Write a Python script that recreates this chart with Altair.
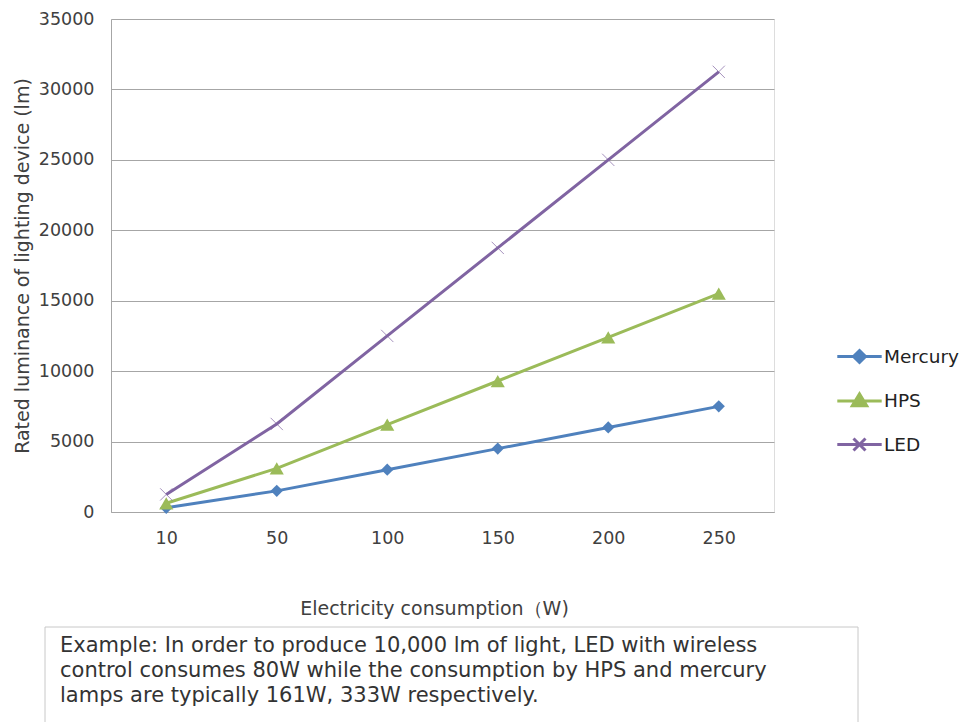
import altair as alt
import pandas as pd

watts = ["10", "50", "100", "150", "200", "250"]
mercury = [300, 1500, 3000, 4500, 6000, 7500]
hps = [620, 3100, 6200, 9300, 12400, 15500]
led = [1250, 6250, 12500, 18750, 25000, 31250]
series_names = ["Mercury", "HPS", "LED"]
series_colors = ["#4f81bd", "#9bbb59", "#8064a2"]
y_ticks = [0, 5000, 10000, 15000, 20000, 25000, 30000, 35000]
x_title = "Electricity consumption（W)"
y_title = "Rated luminance of lighting device (lm)"
note_lines = [
    "Example: In order to produce 10,000 lm of light, LED with wireless",
    "control consumes 80W while the consumption by HPS and mercury",
    "lamps are typically 161W, 333W respectively.",
]

rows = []
for name, vals in zip(series_names, [mercury, hps, led]):
    for w, v in zip(watts, vals):
        rows.append({"watt": w, "lm": v, "series": name})
df = pd.DataFrame(rows)
one = pd.DataFrame({"k": [0]})

FONT = "DejaVu Sans"
TXT = "#404040"

color_scale = alt.Scale(domain=series_names, range=series_colors)
x_enc = alt.X(
    "watt:O",
    sort=watts,
    scale=alt.Scale(type="point", padding=0.5),
    axis=alt.Axis(
        title=x_title, labelAngle=0, ticks=False, labelPadding=17,
        labelFontSize=17.5, labelFont=FONT, labelColor=TXT,
        titleFontSize=19, titleFont=FONT, titleColor=TXT, titleFontWeight="normal",
        titlePadding=53, titleX=323, domainColor="#a6a6a6", grid=False,
    ),
)
y_enc = alt.Y(
    "lm:Q",
    scale=alt.Scale(domain=[0, 35000], nice=False),
    axis=alt.Axis(
        title=y_title, values=y_ticks, format="d", ticks=False, labelPadding=17,
        labelFontSize=17.5, labelFont=FONT, labelColor=TXT,
        titleFontSize=19, titleFont=FONT, titleColor=TXT, titleFontWeight="normal",
        titlePadding=6, domainColor="#a6a6a6", gridColor="#a6a6a6", gridWidth=1,
    ),
)

diamond = "M-1.85,0H1.85M0,-0.5L0.5,0L0,0.5L-0.5,0Z"
tri = "M-1.85,0H1.85M-0.6,0.4L0,-0.6L0.6,0.4Z"
xs = "M-1.85,0H1.85M-0.5,-0.5L0.5,0.5M-0.5,0.5L0.5,-0.5"
shape_sig = (
    f"datum.value === 'Mercury' ? '{diamond}' : "
    f"(datum.value === 'HPS' ? '{tri}' : '{xs}')"
)

lines = alt.Chart(df).mark_line(strokeWidth=3).encode(
    x=x_enc,
    y=y_enc,
    color=alt.Color(
        "series:N", scale=color_scale, sort=series_names,
        legend=alt.Legend(
            title=None, orient="none", legendX=735, legendY=324,
            symbolSize=576, symbolStrokeWidth=3, rowPadding=18.5, padding=0,
            labelFontSize=18.5, labelFont=FONT, labelColor="#222222", labelOffset=11,
            symbolType={"expr": shape_sig},
            symbolFillColor={"expr": "scale('color', datum.value)"},
        ),
    ),
)

pts_merc = alt.Chart(df).transform_filter(
    "datum.series === 'Mercury'"
).mark_point(shape="diamond", filled=True, opacity=1, size=150).encode(
    x=x_enc, y=y_enc,
    color=alt.Color("series:N", scale=color_scale, legend=None),
)

pts_hps = alt.Chart(df).transform_filter(
    "datum.series === 'HPS'"
).mark_point(shape="triangle-up", filled=True, opacity=1, size=200).encode(
    x=x_enc, y=y_enc,
    color=alt.Color("series:N", scale=color_scale, legend=None),
)

pts_x = alt.Chart(df).transform_filter(
    "datum.series === 'LED'"
).mark_point(
    shape="M-1,-1L1,1M-1,1L1,-1", filled=False, size=150, strokeWidth=1, opacity=0.7
).encode(
    x=x_enc, y=y_enc,
    color=alt.Color("series:N", scale=color_scale, legend=None),
)

note_box = alt.Chart(one).mark_rect(
    fill="white", stroke="#c8c8c8", strokeWidth=1
).encode(
    x=alt.value(-66), x2=alt.value(747), y=alt.value(608), y2=alt.value(720)
)

note_text = alt.Chart(one).mark_text(
    align="left", baseline="alphabetic", font=FONT, fontSize=21, lineHeight=25,
    color="#333333"
).encode(
    x=alt.value(-51), y=alt.value(633), text=alt.value(note_lines)
)

chart = alt.layer(lines, pts_merc, pts_hps, pts_x, note_box, note_text).properties(
    width=663, height=493,
    autosize=alt.AutoSizeParams(type="none"),
    padding={"left": 111, "top": 19, "right": 188, "bottom": 210},
).configure_view(stroke=None).configure(background="white")

chart.save("out.html", embed_options={"renderer": "svg", "actions": False})
